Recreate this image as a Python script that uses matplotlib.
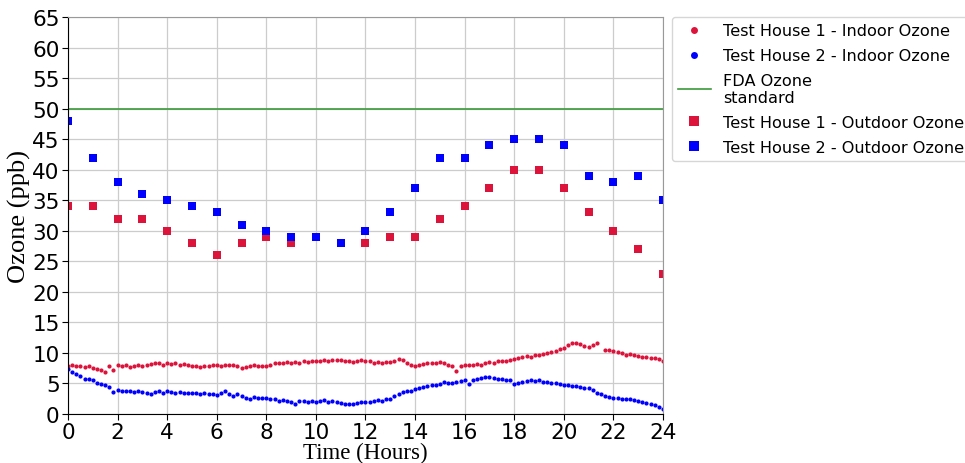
import numpy as np
import matplotlib
matplotlib.use('Agg')
import matplotlib.pyplot as plt

# hourly outdoor ozone (ppb)
hours = list(range(25))
outdoor_h1 = [34, 34, 32, 32, 30, 28, 26, 28, 29, 28, 29, 28, 28, 29, 29, 32, 34, 37, 40, 40, 37, 33, 30, 27, 23]
outdoor_h2 = [48, 42, 38, 36, 35, 34, 33, 31, 30, 29, 29, 28, 30, 33, 37, 42, 42, 44, 45, 45, 44, 39, 38, 39, 35]

# indoor ozone, one reading every 10 minutes
indoor_h1 = [
    7.9, 8.1, 7.8, 7.9, 7.7, 7.8, 7.6,
    7.4, 7.2, 6.9, 7.9, 7.2, 8.0,
    7.9, 8.0, 7.7, 7.8, 8.0, 7.9,
    8.0, 8.2, 8.4, 8.3, 8.1, 8.3,
    8.2, 8.4, 8.1, 8.2, 8.0, 7.9,
    7.8, 7.7, 7.9, 7.8, 8.0, 8.0,
    7.9, 8.1, 8.0, 8.1, 7.8, 7.6,
    7.7, 7.9, 8.0, 7.8, 7.9, 7.8,
    8.1, 8.3, 8.4, 8.3, 8.5, 8.4,
    8.5, 8.4, 8.6, 8.5, 8.7, 8.6,
    8.7, 8.9, 8.6, 8.8, 8.9, 8.8,
    8.6, 8.7, 8.5, 8.6, 8.8, 8.7,
    8.6, 8.4, 8.5, 8.4, 8.5, 8.5,
    8.7, 9.0, 8.9, 8.4, 8.1, 7.9,
    8.1, 8.2, 8.3, 8.4, 8.3, 8.5,
    8.3, 8.0, 7.9, 7.1, 7.9, 8.0,
    8.1, 8.0, 8.2, 8.1, 8.3, 8.5,
    8.4, 8.6, 8.7, 8.6, 8.9, 9.0,
    9.2, 9.3, 9.5, 9.4, 9.6, 9.7,
    9.9, 10.0, 10.2, 10.3, 10.6, 10.8,
    11.3, 11.6, 11.7, 11.5, 11.2, 10.9,
    11.3, 11.6, np.nan, 10.4, 10.5, 10.3,
    10.1, 10.0, 9.7, 9.8, 9.6, 9.5,
    9.4, 9.3, 9.1, 9.2, 9.0, 8.7,
]
indoor_h2 = [
    7.3, 6.9, 6.6, 6.2, 5.8, 5.7, 5.5,
    5.1, 4.9, 4.7, 4.5, 3.6, 3.9,
    3.8, 3.7, 3.8, 3.6, 3.7, 3.6,
    3.4, 3.3, 3.6, 3.7, 3.5, 3.7,
    3.6, 3.5, 3.6, 3.5, 3.4, 3.5,
    3.4, 3.3, 3.4, 3.2, 3.3, 3.1,
    3.4, 3.7, 3.2, 2.9, 3.3, 3.0,
    2.6, 2.5, 2.8, 2.7, 2.6, 2.6,
    2.5, 2.4, 2.2, 2.3, 2.1, 2.0,
    1.7, 2.1, 2.2, 2.0, 2.1, 2.0,
    2.2, 2.3, 2.0, 2.2, 1.9, 1.8,
    1.7, 1.6, 1.7, 1.8, 1.9, 2.0,
    2.0, 2.1, 2.3, 2.2, 2.4, 2.5,
    2.9, 3.3, 3.6, 3.7, 3.8, 4.1,
    4.2, 4.4, 4.6, 4.7, 4.8, 4.9,
    5.3, 5.0, 5.1, 5.2, 5.4, 5.5,
    4.9, 5.5, 5.8, 5.9, 6.0, 6.0,
    5.9, 5.7, 5.8, 5.6, 5.6, 4.9,
    5.1, 5.2, 5.4, 5.5, 5.4, 5.5,
    5.3, 5.2, 5.1, 5.0, 4.9, 4.8,
    4.7, 4.6, 4.6, 4.5, 4.3, 4.2,
    3.9, 3.5, 3.2, 3.0, 2.8, 2.7,
    2.6, 2.5, 2.4, 2.4, 2.3, 2.2,
    2.0, 1.8, 1.6, 1.4, 1.1, 0.8,
]
indoor_t = np.arange(len(indoor_h1)) / 6.0

fda_standard = 50

fig = plt.figure(figsize=(9.65, 4.64), dpi=100)
ax = fig.add_axes([0.0705, 0.1056, 0.6165, 0.8555])

ax.plot(indoor_t, indoor_h1, 'o', color='crimson', markersize=3.0, markeredgewidth=0,
        label='Test House 1 - Indoor Ozone')
ax.plot(indoor_t, indoor_h2, 'o', color='blue', markersize=3.0, markeredgewidth=0,
        label='Test House 2 - Indoor Ozone')
ax.axhline(fda_standard, color='#3a9a3a', linewidth=1.2, label='FDA Ozone\nstandard')
ax.plot(hours, outdoor_h1, 's', color='crimson', markersize=5.2, markeredgewidth=0,
        label='Test House 1 - Outdoor Ozone')
ax.plot(hours, outdoor_h2, 's', color='blue', markersize=5.2, markeredgewidth=0,
        label='Test House 2 - Outdoor Ozone')

ax.set_xlim(0, 24)
ax.set_ylim(0, 65)
ax.set_xticks(range(0, 25, 2))
ax.set_yticks(range(0, 66, 5))
ax.tick_params(labelsize=15.5, length=4, pad=2)
ax.grid(True, color='#cccccc', linewidth=0.9)
ax.set_axisbelow(True)
for side in ['top', 'right']:
    ax.spines[side].set_color('#999999')

ax.set_xlabel('Time (Hours)', family='Liberation Serif', fontsize=16.5, labelpad=0)
ax.set_ylabel('Ozone (ppb)', family='Liberation Serif', fontsize=19, labelpad=1)

leg = ax.legend(loc='upper left', bbox_to_anchor=(1.015, 1.0), fontsize=11.6,
                frameon=True, borderaxespad=0, handlelength=2.0, labelspacing=0.6)
leg.get_frame().set_edgecolor('#cccccc')
# bigger markers inside the legend box
handles = leg.legend_handles
handles[0].set_markersize(5)
handles[1].set_markersize(5)
handles[3].set_markersize(7.5)
handles[4].set_markersize(7.5)

fig.savefig('out.png', dpi=100)
